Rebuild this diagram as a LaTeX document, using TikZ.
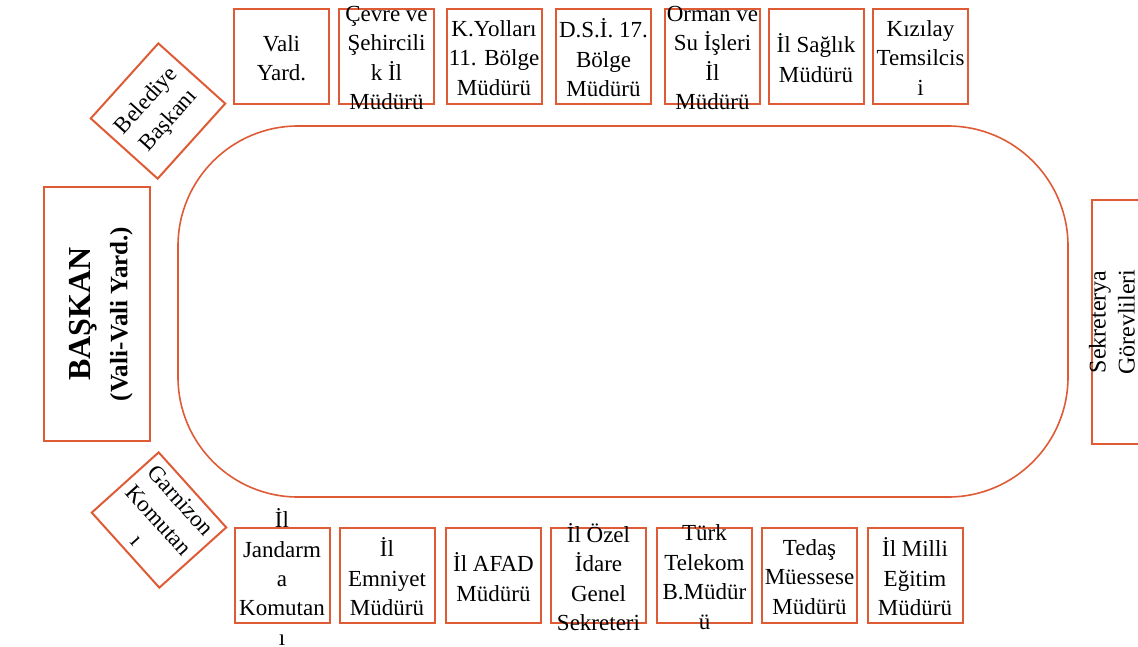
\documentclass[tikz,border=0pt]{standalone}
\usepackage{fontspec}
\setmainfont{Liberation Serif}
\definecolor{edge}{HTML}{DE5B36}
\tikzset{
  seattext/.style={align=center, text=black, inner sep=0pt, font=\fontsize{23}{29.5}\selectfont},
  box/.style={draw=edge, line width=2pt, minimum width=95pt, minimum height=95pt, inner sep=0pt},
  seat/.style={box, label={[seattext, yshift=-2pt]center:#1}},
  corner/.style={box, seattext, minimum width=101pt, minimum height=90pt},
  table/.style={draw=edge, line width=1.6pt, rounded corners=120pt},
}
\begin{document}
\begin{tikzpicture}[x=1pt,y=-1pt]
\useasboundingbox (0,0) rectangle (1138,646);

% meeting table
\draw[table] (178,126) rectangle (1068,497);

% head of the table
\node[box, minimum width=106pt, minimum height=254pt] (baskan) at (97,314) {};
\node[rotate=90, align=center, inner sep=0pt, font=\fontsize{25}{37}\selectfont\bfseries]
  (baskantext) at (101,314)
  {{\fontsize{32}{37}\selectfont BAŞKAN}\\(Vali-Vali Yard.)};

% corner seats
\node[corner, rotate=48] (belediye) at (158,111) {Belediye\\Başkanı};
\node[corner, rotate=-48] (garnizon) at (159,520) {Garnizon\\Komutan\\ı};

% upper row
\node[seat={Vali\\Yard.}]                  (valiyard) at (281.5,56) {};
\node[seat={Çevre ve\\Şehircili\\k İl\\Müdürü}] (cevre) at (386.5,56) {};
\node[seat={K.Yolları\\11. Bölge\\Müdürü}] (kyollari) at (494,56)   {};
\node[seat={D.S.İ. 17.\\Bölge\\Müdürü}]    (dsi)      at (603.5,56) {};
\node[seat={Orman ve\\Su İşleri\\İl\\Müdürü}] (orman) at (712.5,56) {};
\node[seat={İl Sağlık\\Müdürü}]            (saglik)   at (816,56)   {};
\node[seat={Kızılay\\Temsilcis\\i}]        (kizilay)  at (920.5,56) {};

% lower row
\node[seat={İl\\Jandarm\\a\\Komutan\\ı}]   (jandarma) at (282,575)   {};
\node[seat={İl\\Emniyet\\Müdürü}]          (emniyet)  at (387,575)   {};
\node[seat={İl AFAD\\Müdürü}]              (afad)     at (493.5,575) {};
\node[seat={İl Özel\\İdare\\Genel\\Sekreteri}] (ozel) at (598.5,575) {};
\node[seat={Türk\\Telekom\\B.Müdür\\ü}]    (telekom)  at (704.5,575) {};
\node[seat={Tedaş\\Müessese\\Müdürü}]      (tedas)    at (809.5,575) {};
\node[seat={İl Milli\\Eğitim\\Müdürü}]     (milli)    at (915,575)   {};

% secretariat at the far end
\node[box, minimum width=95pt, minimum height=244pt, anchor=west] (sekreterya) at (1091,322) {};
\node[rotate=90, align=center, inner sep=0pt, font=\fontsize{24}{29}\selectfont] (sektext)
  at (1112,322) {Sekreterya\\Görevlileri};
\end{tikzpicture}
\end{document}
